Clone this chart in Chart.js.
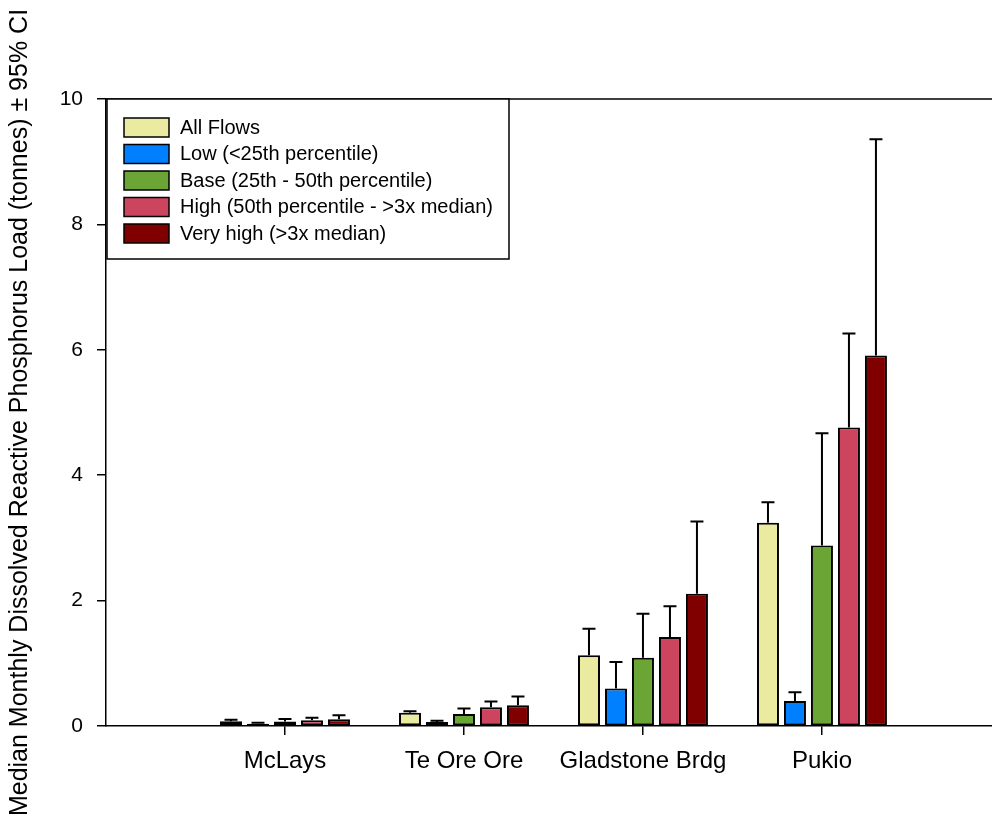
<!DOCTYPE html>
<html><head><meta charset="utf-8">
<script src="https://cdn.jsdelivr.net/npm/chart.js@4.4.0/dist/chart.umd.min.js"></script>
<style>html,body{margin:0;padding:0;background:#fff;overflow:hidden}</style>
</head><body>
<canvas id="c" width="992" height="814"></canvas>
<script>
const categories = ['McLays', 'Te Ore Ore', 'Gladstone Brdg', 'Pukio'];
const seriesNames = ['All Flows', 'Low (<25th percentile)', 'Base (25th - 50th percentile)', 'High (50th percentile - >3x median)', 'Very high (>3x median)'];
const allFlows   = [0.075, 0.21, 1.13, 3.24];
const allFlowsCI = [0.10, 0.235, 1.55, 3.57];
const low        = [0.037, 0.064, 0.60, 0.40];
const lowCI      = [0.053, 0.085, 1.02, 0.54];
const base       = [0.07, 0.19, 1.09, 2.88];
const baseCI     = [0.11, 0.28, 1.79, 4.67];
const high       = [0.09, 0.30, 1.42, 4.76];
const highCI     = [0.13, 0.39, 1.91, 6.26];
const veryHigh   = [0.107, 0.33, 2.11, 5.91];
const veryHighCI = [0.17, 0.47, 3.26, 9.36];
const yTicks = [0, 2, 4, 6, 8, 10];
const yTitle = 'Median Monthly Dissolved Reactive Phosphorus Load (tonnes) \u00B1 95% CI';

const colors = ['#EAEAA0', '#0080FF', '#6AA535', '#CC445E', '#800000'];
const seriesValues = [allFlows, low, base, high, veryHigh];
const seriesUpper = [allFlowsCI, lowCI, baseCI, highCI, veryHighCI];
const FONT = '"Liberation Sans", Arial, Helvetica, sans-serif';

const datasets = seriesValues.map((vals, s) => ({
  label: seriesNames[s],
  data: vals.map((v, i) => ({x: i + 1, y: v})),
  upper: seriesUpper[s],
  backgroundColor: colors[s],
  borderColor: '#000',
  borderWidth: 2,
  borderSkipped: false,
  categoryPercentage: 0.754,
  barPercentage: 0.815
}));

const errorBars = {
  id: 'errorBars',
  afterDatasetsDraw(chart) {
    const ctx = chart.ctx, ys = chart.scales.y;
    ctx.save();
    ctx.strokeStyle = '#000';
    ctx.lineWidth = 2;
    chart.data.datasets.forEach((ds, di) => {
      const meta = chart.getDatasetMeta(di);
      meta.data.forEach((el, i) => {
        const top = ys.getPixelForValue(ds.upper[i]);
        const half = 6.5;
        ctx.beginPath();
        ctx.moveTo(el.x, el.y);
        ctx.lineTo(el.x, top);
        ctx.moveTo(el.x - half, top);
        ctx.lineTo(el.x + half, top);
        ctx.stroke();
      });
    });
    ctx.restore();
  }
};

const frameAndLegend = {
  id: 'frameAndLegend',
  afterDraw(chart) {
    const ctx = chart.ctx, a = chart.chartArea;
    ctx.save();
    ctx.strokeStyle = '#000';
    ctx.lineWidth = 1.5;
    ctx.beginPath();
    ctx.moveTo(a.left, a.top);
    ctx.lineTo(a.right, a.top);
    ctx.stroke();
    const lx = a.left + 1, ly = a.top, lw = 402, lh = 160;
    ctx.fillStyle = '#fff';
    ctx.fillRect(lx, ly, lw, lh);
    ctx.strokeRect(lx, ly, lw, lh);
    ctx.font = '20px ' + FONT;
    ctx.textBaseline = 'middle';
    ctx.textAlign = 'left';
    chart.data.datasets.forEach((ds, i) => {
      const sy = ly + 19 + i * 26.5;
      ctx.fillStyle = ds.backgroundColor;
      ctx.fillRect(lx + 17, sy, 45, 19);
      ctx.strokeRect(lx + 17, sy, 45, 19);
      ctx.fillStyle = '#000';
      ctx.fillText(ds.label, lx + 73, sy + 10);
    });
    ctx.restore();
  }
};

new Chart(document.getElementById('c'), {
  type: 'bar',
  data: {datasets},
  plugins: [errorBars, frameAndLegend],
  options: {
    responsive: false,
    devicePixelRatio: 1,
    animation: false,
    layout: {padding: {left: 0, top: 99, right: 0, bottom: 0}},
    plugins: {legend: {display: false}, tooltip: {enabled: false}},
    scales: {
      x: {
        type: 'linear',
        offset: false,
        min: 0,
        max: 4.95,
        afterBuildTicks: s => { s.ticks = categories.map((c, i) => ({value: i + 1})); },
        afterFit: s => { s.height = 88; s.paddingLeft = 0; s.paddingRight = 0; },
        ticks: {
          callback: v => categories[Math.round(v) - 1] || '',
          font: {family: FONT, size: 24},
          color: '#000',
          padding: 12,
          maxRotation: 0,
          autoSkip: false
        },
        grid: {display: true, offset: false, drawOnChartArea: false, drawTicks: true, tickLength: 9, color: '#000', lineWidth: 1.5},
        border: {display: true, color: '#000', width: 1.5}
      },
      y: {
        type: 'linear',
        min: 0,
        max: 10,
        afterBuildTicks: s => { s.ticks = yTicks.map(v => ({value: v})); },
        afterFit: s => { s.width = 106; s.paddingTop = 0; s.paddingBottom = 0; },
        ticks: {font: {family: FONT, size: 21}, color: '#000', padding: 14},
        grid: {display: true, drawOnChartArea: false, drawTicks: true, tickLength: 9, color: '#000', lineWidth: 1.5},
        border: {display: true, color: '#000', width: 1.5},
        title: {display: true, text: yTitle, color: '#000', font: {family: FONT, size: 25}, padding: {top: 5, bottom: 0}}
      }
    }
  }
});
</script>
</body></html>
